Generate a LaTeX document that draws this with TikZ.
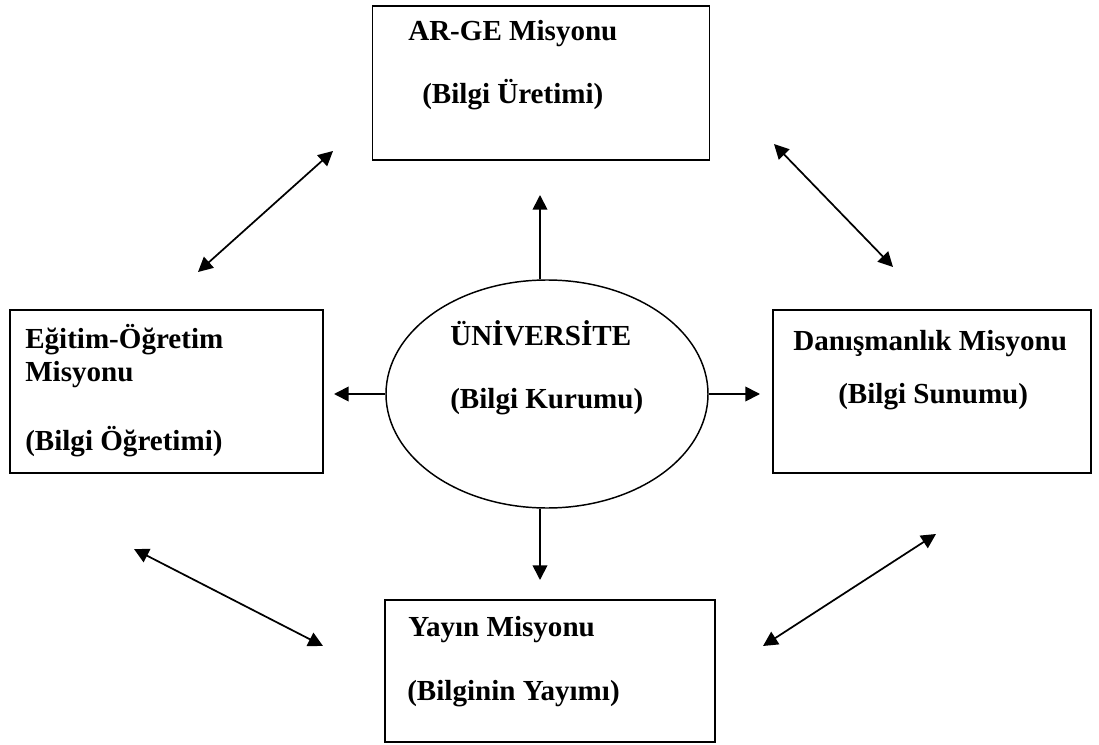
\documentclass[tikz,border=0pt]{standalone}
\usepackage{tikz}
\usetikzlibrary{shapes.geometric, arrows.meta}
\usepackage{fontspec}
\setmainfont{Liberation Serif}
\tikzstyle{misbox}=[rectangle, draw, line width=1.1pt, inner sep=0pt]
\tikzstyle{lbl}=[anchor=west, inner sep=0pt, text height=0.68em, text depth=0.2em, font=\fontsize{21.8}{26}\selectfont\bfseries]
\tikzstyle{arr}=[line width=1.3pt, -{Triangle[length=11pt,width=11pt]}]
\tikzstyle{darr}=[line width=1.3pt, {Triangle[length=11pt,width=11pt]}-{Triangle[length=11pt,width=11pt]}]
\newcommand{\misbox}{\node[misbox]}
\newcommand{\lbl}{\node[lbl]}

\begin{document}
\begin{tikzpicture}[x=0.75pt, y=-0.75pt]
\useasboundingbox (0,0) rectangle (1099,745);
% mission boxes
\misbox[minimum width=253pt, minimum height=115.5pt] (arge) at (541,83) {};
\misbox[minimum width=234.75pt, minimum height=122.25pt] (egitim) at (166.5,391.5) {};
\misbox[minimum width=238.5pt, minimum height=122.25pt] (danis) at (932,391.5) {};
\misbox[minimum width=247.5pt, minimum height=106.5pt] (yayin) at (550,671) {};
\node[ellipse, draw, line width=1.1pt, inner sep=0pt, minimum width=241.5pt, minimum height=171pt] (uni) at (547,394) {};
% texts
\lbl (t1) at (408,37) {AR-GE Misyonu};
\lbl (t2) at (422,100) {(Bilgi Üretimi)};
\lbl (t3) at (25,345) {Eğitim-Öğretim};
\lbl (t4) at (25,378) {Misyonu};
\lbl (t5) at (25,447) {(Bilgi Öğretimi)};
\lbl (t6) at (793,347) {Danışmanlık Misyonu};
\lbl (t7) at (838,400) {(Bilgi Sunumu)};
\lbl (t8) at (450,342) {ÜNİVERSİTE};
\lbl (t9) at (450,405) {(Bilgi Kurumu)};
\lbl (t10) at (408,633) {Yayın Misyonu};
\lbl (t11) at (407,697) {(Bilginin Yayımı)};
% arrows out of the university
\coordinate (upT) at (540,195);
\coordinate (dnT) at (540,580);
\coordinate (lfT) at (334,394);
\coordinate (rtT) at (760,394);
\draw[arr] (upT |- uni.north) -- (upT);
\draw[arr] (dnT |- uni.south) -- (dnT);
\draw[arr] (uni.west) -- (lfT);
\draw[arr] (uni.east) -- (rtT);
% arrows between missions
\coordinate (a1) at (198,272);
\coordinate (a2) at (333,151);
\coordinate (a3) at (774,144);
\coordinate (a4) at (893,267);
\coordinate (a5) at (134,549);
\coordinate (a6) at (323,646);
\coordinate (a7) at (763,646);
\coordinate (a8) at (936,534);
\draw[darr] (a1) -- (a2);
\draw[darr] (a3) -- (a4);
\draw[darr] (a5) -- (a6);
\draw[darr] (a7) -- (a8);
\end{tikzpicture}
\end{document}
